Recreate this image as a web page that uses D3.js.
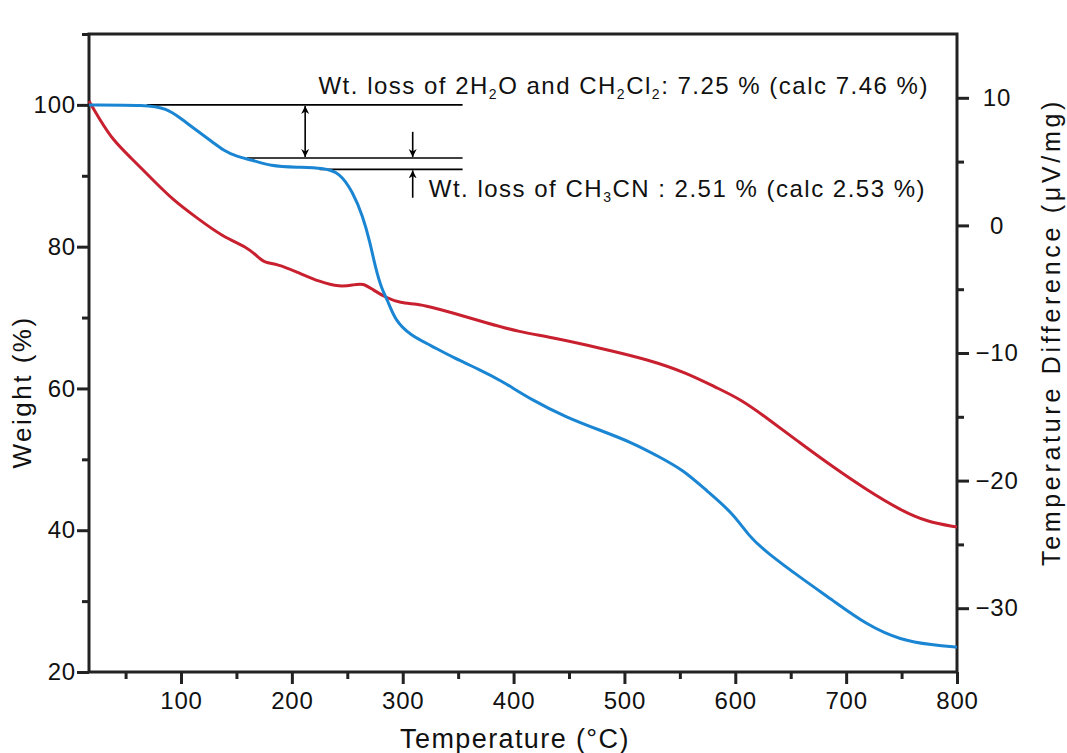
<!DOCTYPE html>
<html><head><meta charset="utf-8">
<script src="https://cdn.jsdelivr.net/npm/d3@7"></script>
<style>
html,body{margin:0;padding:0;background:#fff;}
svg{display:block;font-family:"Liberation Sans",Arial,sans-serif;}
</style></head>
<body>
<svg id="c" width="1067" height="753"></svg>
<script>
// ---- Data ----
const tgTemp = [17,69,87,99,114,129,138,150,165,180,205,228,243,255,264,270.5,275,281,286,293,307,325,345,370,388,417,448,478,508,532,553,574,598,613,629,658,688,719,749,778,800];
const tgWeight = [100,100,99.5,98.2,96.4,94.7,93.6,92.7,92.2,91.4,91.2,91.1,90.5,87.7,84.3,80.6,77.3,74.0,72.6,69.6,67.5,66.1,64.4,62.6,61.2,58.3,55.9,54.1,52.3,50.3,48.5,45.6,42.4,39.0,36.8,33.4,30.1,26.6,24.5,23.8,23.5];
const dtaTemp = [17,27,38.6,54,74.7,92.8,114.4,137.9,159.5,169.4,175.8,186.6,204.6,225.4,243.4,255.1,264.2,273.2,285.8,297.5,312.9,324.6,342.6,376,405.8,432.8,478,523.1,556.4,583.5,604.2,628.6,658.4,688.1,718.8,748.6,772.9,800];
const dtaValue = [9.75,8.26,6.69,5.36,3.56,1.99,0.58,-0.91,-1.69,-2.48,-2.95,-3.02,-3.65,-4.44,-4.83,-4.67,-4.51,-5.06,-5.69,-6.08,-6.16,-6.39,-6.79,-7.65,-8.36,-8.75,-9.61,-10.55,-11.57,-12.74,-13.6,-15.09,-17.05,-18.93,-20.74,-22.30,-23.24,-23.64];
const xTicks = [100,200,300,400,500,600,700,800];
const xMinor = [50,150,250,350,450,550,650,750];
const yLTicks = [20,40,60,80,100];
const yLMinor = [30,50,70,90,110];
const yRTicks = [10,0,-10,-20,-30];
const yRMinor = [5,-5,-15,-25];
// annotation levels (weight %) and temperatures
const refLevels = [100, 92.5, 90.9];
const refStarts = [69, 159.5, 225];
const refEnd = 354;
const arrowT = [212, 309];
const label1 = ["Wt. loss of 2H","2","O and CH","2","Cl","2",": 7.25 % (calc 7.46 %)"];
const label2 = ["Wt. loss of CH","3","CN : 2.51 % (calc 2.53 %)"];

// ---- Scales ----
const x = d3.scaleLinear().domain([17,800]).range([89,957]);
const yL = d3.scaleLinear().domain([20,110]).range([672,34]);
const yR = d3.scaleLinear().domain([-35,15]).range([672,34]);

const svg = d3.select("#c");
const axisColor = "#222";
const fmt = d => d < 0 ? "\u2212" + Math.abs(d) : String(d);

function styleAxis(g){
  g.select(".domain").remove();
  g.selectAll("line").attr("stroke",axisColor).attr("stroke-width",3);
  g.selectAll("text").attr("fill","#111").attr("font-size",24).attr("letter-spacing",0.8)
    .attr("font-family","Liberation Sans, Arial, sans-serif");
}

// bottom axis
svg.append("g").attr("transform","translate(0,672)")
  .call(d3.axisBottom(x).tickValues(xTicks).tickSize(12).tickPadding(8).tickFormat(fmt)).call(styleAxis);
svg.append("g").attr("transform","translate(0,672)")
  .call(d3.axisBottom(x).tickValues(xMinor).tickSize(7).tickFormat("")).call(styleAxis);
// left axis
svg.append("g").attr("transform","translate(89,0)")
  .call(d3.axisLeft(yL).tickValues(yLTicks).tickSize(12).tickPadding(1).tickFormat(fmt)).call(styleAxis);
svg.append("g").attr("transform","translate(89,0)")
  .call(d3.axisLeft(yL).tickValues(yLMinor).tickSize(7).tickFormat("")).call(styleAxis);
// right axis
const gR = svg.append("g").attr("transform","translate(957,0)")
  .call(d3.axisRight(yR).tickValues(yRTicks).tickSize(12).tickPadding(28).tickFormat(fmt)).call(styleAxis);
gR.selectAll("text").attr("text-anchor","middle");
svg.append("g").attr("transform","translate(957,0)")
  .call(d3.axisRight(yR).tickValues(yRMinor).tickSize(7).tickFormat("")).call(styleAxis);

// frame
svg.append("rect").attr("x",89).attr("y",34).attr("width",957-89).attr("height",672-34)
  .attr("fill","none").attr("stroke",axisColor).attr("stroke-width",3);

// curves
const lineTG = d3.line().x((d,i)=>x(tgTemp[i])).y(d=>yL(d)).curve(d3.curveBasis);
const lineDTA = d3.line().x((d,i)=>x(dtaTemp[i])).y(d=>yR(d)).curve(d3.curveBasis);

// reference lines
refLevels.forEach((lv,i)=>{
  svg.append("line").attr("x1",x(refStarts[i])).attr("x2",x(refEnd))
    .attr("y1",yL(lv)).attr("y2",yL(lv)).attr("stroke","#000").attr("stroke-width",1.6);
});

svg.append("path").attr("d",lineDTA(dtaValue)).attr("fill","none").attr("stroke","#c8202f").attr("stroke-width",3);
svg.append("path").attr("d",lineTG(tgWeight)).attr("fill","none").attr("stroke","#1a85d2").attr("stroke-width",3);

// arrows
const defs = svg.append("defs");
defs.append("marker").attr("id","ah").attr("viewBox","0 0 10 10").attr("refX",10).attr("refY",5)
  .attr("markerWidth",8).attr("markerHeight",9).attr("markerUnits","userSpaceOnUse").attr("orient","auto-start-reverse")
  .append("path").attr("d","M0,0 L10,5 L0,10 L3,5 Z").attr("fill","#000");
function arrow(x1,y1,x2,y2,both){
  const l = svg.append("line").attr("x1",x1).attr("y1",y1).attr("x2",x2).attr("y2",y2)
    .attr("stroke","#000").attr("stroke-width",1.6).attr("marker-end","url(#ah)");
  if(both) l.attr("marker-start","url(#ah)");
}
arrow(x(arrowT[0]), yL(refLevels[1])-1, x(arrowT[0]), yL(refLevels[0])+1, true);
arrow(x(arrowT[1]), yL(96.2), x(arrowT[1]), yL(refLevels[1])-1, false);
arrow(x(arrowT[1]), yL(86.9), x(arrowT[1]), yL(refLevels[2])+1, false);

// annotation text
function rich(parts, tx, ty){
  const t = svg.append("text").attr("x",tx).attr("y",ty).attr("font-size",24).attr("fill","#111").attr("letter-spacing",1.5);
  parts.forEach((p,i)=>{
    const ts = t.append("tspan").text(p);
    if(i%2===1){ ts.attr("font-size",14).attr("dy",5); }
    else if(i>0){ ts.attr("dy",-5); }
  });
}
rich(label1, x(224), yL(101.5));
rich(label2, x(323.5), yL(87));

// axis titles
svg.append("text").attr("x",515).attr("y",748).attr("text-anchor","middle").attr("font-size",27)
  .attr("letter-spacing",1.4).attr("fill","#111").text("Temperature (\u00B0C)");
svg.append("text").attr("transform","translate(31,392) rotate(-90)").attr("text-anchor","middle").attr("font-size",26)
  .attr("letter-spacing",2.5).attr("fill","#111").text("Weight (%)");
svg.append("text").attr("transform","translate(1060,332) rotate(-90)").attr("text-anchor","middle").attr("font-size",25)
  .attr("letter-spacing",3.7).attr("fill","#111").text("Temperature Difference (\u03BCV/mg)");
</script>
</body></html>
